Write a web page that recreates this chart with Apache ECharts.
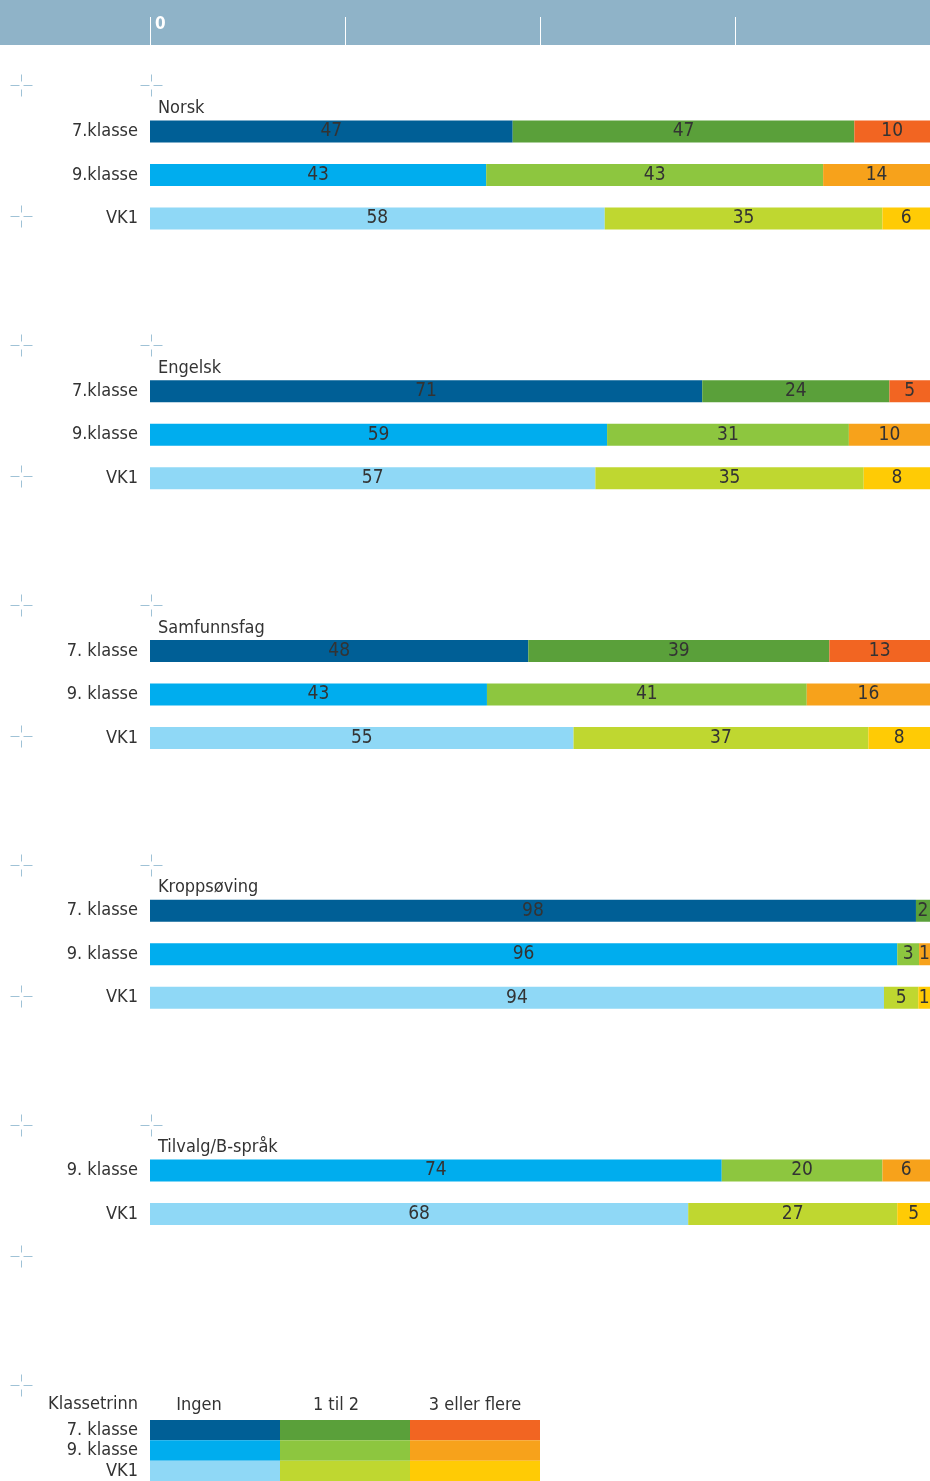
<!DOCTYPE html>
<html>
<head>
<meta charset="utf-8">
<script src="https://cdn.jsdelivr.net/npm/echarts@6/dist/echarts.min.js"></script>
<style>
  html, body { margin: 0; padding: 0; background: #fff; }
  #chart { width: 930px; height: 1481px; }
</style>
</head>
<body>
<div id="chart"></div>
<script>
// fag og klassetrinn
var fag = ['Norsk', 'Engelsk', 'Samfunnsfag', 'Kroppsøving', 'Tilvalg/B-språk'];
var trinn = [
  ['7.klasse', '9.klasse', 'VK1'],
  ['7.klasse', '9.klasse', 'VK1'],
  ['7. klasse', '9. klasse', 'VK1'],
  ['7. klasse', '9. klasse', 'VK1'],
  ['9. klasse', 'VK1']
];
// stolpelengder (prosent, lest av bildet)
var ingen = [[46.5, 43.1, 58.3], [70.8, 58.6, 57.1], [48.5, 43.2, 54.3], [98.2, 95.8, 94.1], [73.3, 69.0]];
var enTilTo = [[43.8, 43.2, 35.6], [24.0, 31.0, 34.4], [38.6, 41.0, 37.8], [1.8, 2.8, 4.4], [20.6, 26.8]];
var treEllerFlere = [[9.7, 13.7, 6.1], [5.2, 10.4, 8.5], [12.9, 15.8, 7.9], [0, 1.4, 1.5], [6.1, 4.2]];
// tall som står skrevet i stolpene
var tallIngen = [[47, 43, 58], [71, 59, 57], [48, 43, 55], [98, 96, 94], [74, 68]];
var tallEnTilTo = [[47, 43, 35], [24, 31, 35], [39, 41, 37], [2, 3, 5], [20, 27]];
var tallTre = [[10, 14, 6], [5, 10, 8], [13, 16, 8], [null, 1, 1], [6, 5]];
// forklaring
var kategorier = ['Ingen', '1 til 2', '3 eller flere'];
var forklaringTrinn = ['7. klasse', '9. klasse', 'VK1'];
var skalaTikk = [0, 25, 50, 75];

// farger: rad = trinn (7, 9, VK1), kolonne = kategori
var farger = [
  ['#005f96', '#5aa03a', '#f26522'],
  ['#00adee', '#8dc63f', '#f7a21b'],
  ['#8fd8f6', '#bfd730', '#ffcb05']
];
var font = "'DejaVu Sans Condensed', 'Liberation Sans', sans-serif";
var tekstFarge = '#333';

var chart = echarts.init(document.getElementById('chart'));

function radNr(navn) {
  if (navn.charAt(0) == '7') return 0;
  if (navn.charAt(0) == '9') return 1;
  return 2;
}

var grid = [], xAxis = [], yAxis = [], series = [], title = [], graphic = [];

// toppfelt
graphic.push({ type: 'rect', shape: { x: 0, y: 0, width: 930, height: 45 }, style: { fill: '#8fb3c8' }, z: -1 });
grid.push({ left: 150, right: 0, top: 45, height: 1 });
xAxis.push({
  gridIndex: 0, type: 'value', min: 0, max: 100, position: 'top',
  axisLine: { show: false }, splitLine: { show: false },
  axisTick: { show: true, length: 28, customValues: skalaTikk, lineStyle: { color: '#fff', width: 1 } },
  axisLabel: { customValues: [0], color: '#fff', fontWeight: 'bold', fontFamily: font, fontSize: 17, align: 'left', margin: 12, padding: [0, 0, 0, 5] }
});
yAxis.push({ gridIndex: 0, type: 'category', data: [''], show: false });
series.push({ type: 'scatter', xAxisIndex: 0, yAxisIndex: 0, data: [] });

// trådkors
function kors(cx, cy) {
  var c = '#9fc2d6';
  cx += 0.5; cy += 0.5;
  [[cx - 11, cy, cx - 2, cy], [cx + 2, cy, cx + 11, cy], [cx, cy - 11, cx, cy - 4], [cx, cy + 4, cx, cy + 11]].forEach(function (l) {
    graphic.push({ type: 'line', shape: { x1: l[0], y1: l[1], x2: l[2], y2: l[3] }, style: { stroke: c, lineWidth: 1 }, silent: true });
  });
}

var bandH = 43.5;
for (var i = 0; i < fag.length; i++) {
  var midt = 131.5 + 259.75 * i;
  var g = i + 1;
  var n = trinn[i].length;
  grid.push({ left: 150, right: 0, top: midt - bandH / 2, height: n * bandH });
  xAxis.push({ gridIndex: g, type: 'value', min: 0, max: 100, show: false });
  yAxis.push({
    gridIndex: g, type: 'category', inverse: true, data: trinn[i],
    axisLine: { show: false }, axisTick: { show: false },
    axisLabel: { fontSize: 18, fontFamily: font, color: tekstFarge, margin: 12, padding: [3, 0, 0, 0] }
  });
  title.push({
    text: fag[i], left: 158, top: midt - 32, padding: 0,
    textStyle: { fontSize: 18, fontWeight: 'normal', fontFamily: font, color: tekstFarge }
  });
  var verdier = [ingen[i], enTilTo[i], treEllerFlere[i]];
  var tall = [tallIngen[i], tallEnTilTo[i], tallTre[i]];
  for (var k = 0; k < 3; k++) {
    (function (t) {
      series.push({
        type: 'bar', stack: 'fag' + i, xAxisIndex: g, yAxisIndex: g, barWidth: 22,
        data: verdier[k].map(function (v, j) {
          return { value: v, itemStyle: { color: farger[radNr(trinn[i][j])][k] } };
        }),
        label: {
          show: true, position: 'inside', fontSize: 19, fontFamily: font, color: tekstFarge,
          formatter: function (p) { return t[p.dataIndex] == null ? '' : String(t[p.dataIndex]); }
        },
        silent: true
      });
    })(tall[k]);
  }
  var korsY = 85 + 260 * i;
  kors(21, korsY);
  kors(151, korsY);
  kors(21, korsY + 131);
}
kors(21, 1385);

// forklaring
var fg = grid.length;
var flytt = [32, 18, 0]; // overskriftene står litt til venstre for kolonnemidten
grid.push({ left: 150, width: 390, top: 1420, height: 61 });
xAxis.push({ gridIndex: fg, type: 'value', min: 0, max: 3, show: false });
xAxis.push({
  gridIndex: fg, type: 'category', position: 'top', data: kategorier,
  axisLine: { show: false }, axisTick: { show: false },
  axisLabel: {
    interval: 0, fontSize: 18, fontFamily: font, color: tekstFarge, margin: 6,
    formatter: function (v, idx) { return '{k' + idx + '|' + v + '}'; },
    rich: {
      k0: { fontSize: 18, fontFamily: font, color: tekstFarge, padding: [0, flytt[0], 0, 0] },
      k1: { fontSize: 18, fontFamily: font, color: tekstFarge, padding: [0, flytt[1], 0, 0] },
      k2: { fontSize: 18, fontFamily: font, color: tekstFarge, padding: [0, flytt[2], 0, 0] }
    }
  }
});
yAxis.push({
  gridIndex: fg, type: 'category', inverse: true, data: forklaringTrinn,
  axisLine: { show: false }, axisTick: { show: false },
  axisLabel: { interval: 0, fontSize: 18, fontFamily: font, color: tekstFarge, margin: 12, padding: [9, 0, 0, 0] }
});
kategorier.forEach(function (kat, k) {
  series.push({
    type: 'bar', stack: 'forklaring', xAxisIndex: xAxis.length - 2, yAxisIndex: yAxis.length - 1,
    barWidth: '100%',
    data: forklaringTrinn.map(function (tr, j) { return { value: 1, itemStyle: { color: farger[j][k] } }; }),
    silent: true
  });
});
graphic.push({
  type: 'text', right: 930 - 138, top: 1395,
  style: { text: 'Klassetrinn', fontSize: 18, fontFamily: font, fill: tekstFarge, textAlign: 'right' }
});

chart.setOption({
  animation: false,
  backgroundColor: '#fff',
  title: title,
  grid: grid,
  xAxis: xAxis,
  yAxis: yAxis,
  series: series,
  graphic: graphic
});
window.onresize = function () { chart.resize(); };
</script>
</body>
</html>
